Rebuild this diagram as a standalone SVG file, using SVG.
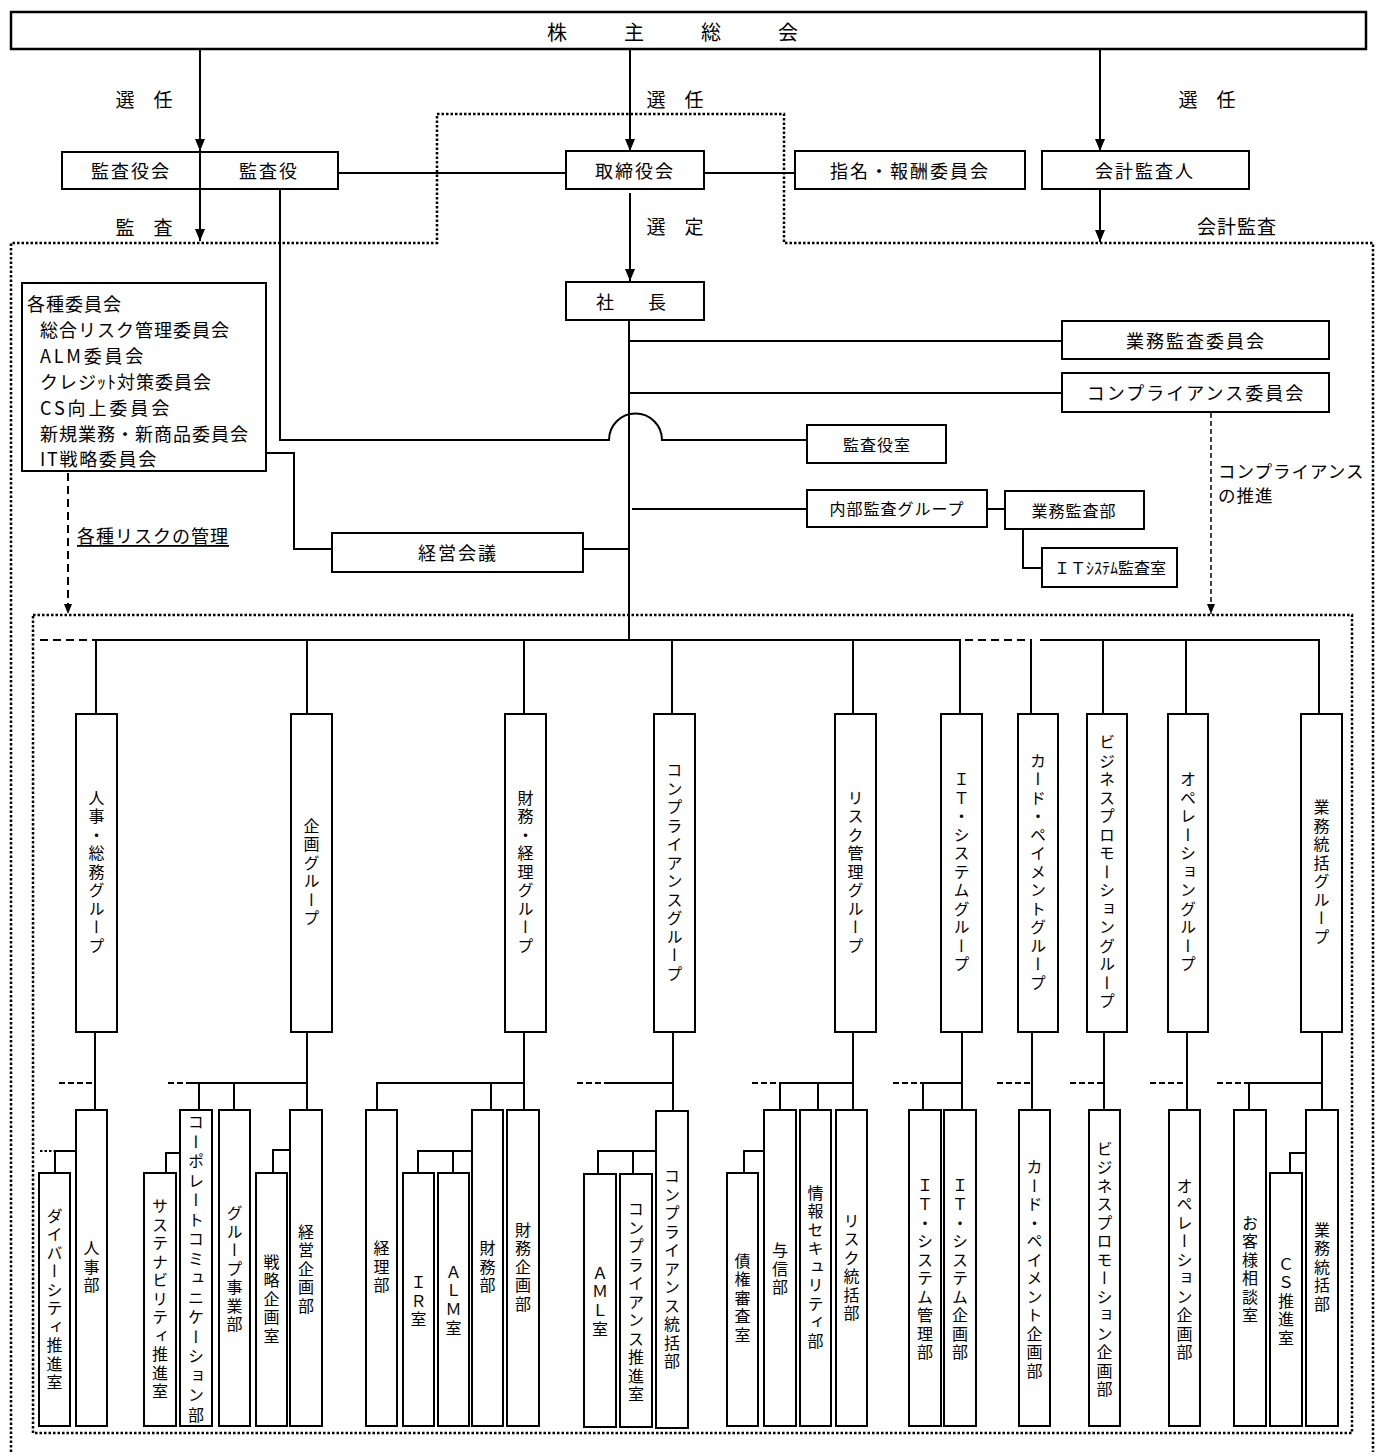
<svg xmlns="http://www.w3.org/2000/svg" width="1376" height="1456" viewBox="0 0 1376 1456">
<style>
.box{fill:#fff;stroke:#000;stroke-width:2}
.ln{fill:none;stroke:#000;stroke-width:2}
.dot{fill:none;stroke:#000;stroke-width:2.5;stroke-dasharray:2.5 2}
.dash{fill:none;stroke:#000;stroke-width:2;stroke-dasharray:8 5}
.dash2{fill:none;stroke:#000;stroke-width:1.5;stroke-dasharray:5 3}
text{font-family:"Noto Sans CJK JP","Noto Sans",sans-serif;fill:#000}
.t{font-size:18px;letter-spacing:2px;text-anchor:middle;dominant-baseline:central}
.s{font-size:16px;letter-spacing:1px;text-anchor:middle;dominant-baseline:central}
.lb{font-size:19px;text-anchor:middle;dominant-baseline:central}
.c{font-size:18px;letter-spacing:1px;dominant-baseline:central}
.v{font-size:16px;letter-spacing:2.5px;text-anchor:middle;writing-mode:vertical-rl}
</style>
<defs>
<marker id="ah" viewBox="0 0 12 10" refX="12" refY="5" markerWidth="12" markerHeight="10" markerUnits="userSpaceOnUse" orient="auto"><path d="M0,0 L12,5 L0,10 z" fill="#000"/></marker>
<marker id="ahs" viewBox="0 0 10 8" refX="10" refY="4" markerWidth="10" markerHeight="8" markerUnits="userSpaceOnUse" orient="auto"><path d="M0,0 L10,4 L0,8 z" fill="#000"/></marker>
</defs>

<g id="connectors">
<path class="dot" d="M11 1452 V243 H437 V114 H784 V243 H1373 V1452"/>
<rect class="dot" x="33" y="615" width="1319" height="818"/>
<line class="ln" x1="200" y1="49" x2="200" y2="151" marker-end="url(#ah)"/>
<line class="ln" x1="630" y1="49" x2="630" y2="151" marker-end="url(#ah)"/>
<line class="ln" x1="1100" y1="49" x2="1100" y2="151" marker-end="url(#ah)"/>
<line class="ln" x1="200" y1="189" x2="200" y2="241" marker-end="url(#ah)"/>
<line class="ln" x1="1100" y1="189" x2="1100" y2="242" marker-end="url(#ah)"/>
<line class="ln" x1="630" y1="193" x2="630" y2="281" marker-end="url(#ah)"/>
<line class="ln" x1="338" y1="173" x2="566" y2="173"/>
<line class="ln" x1="704" y1="173" x2="795" y2="173"/>
<line class="ln" x1="629" y1="320" x2="629" y2="641"/>
<line class="ln" x1="629" y1="341" x2="1062" y2="341"/>
<line class="ln" x1="629" y1="393" x2="1062" y2="393"/>
<path class="ln" d="M280 189 V440 H609 A26.5 26.5 0 0 1 662 440 H807"/>
<line class="ln" x1="632" y1="509" x2="807" y2="509"/>
<line class="ln" x1="987" y1="509" x2="1005" y2="509"/>
<path class="ln" d="M1023 529 V568 H1042"/>
<line class="ln" x1="583" y1="549" x2="629" y2="549"/>
<path class="ln" d="M266 453 H294 V549 H332"/>
<line class="dash" x1="68" y1="473" x2="68" y2="614" marker-end="url(#ahs)"/>
<line class="dash2" x1="1211" y1="413" x2="1211" y2="614" marker-end="url(#ahs)"/>
<line class="dash" x1="40" y1="640" x2="96" y2="640"/>
<line class="ln" x1="96" y1="640" x2="961" y2="640"/>
<line class="dash" x1="965" y1="640" x2="1032" y2="640"/>
<line class="ln" x1="1040" y1="640" x2="1320" y2="640"/>
<path class="ln" d="M96 640 V714 M307 640 V714 M524 640 V714 M672 640 V714 M853 640 V714 M960 640 V714 M1031 639 V714 M1103 640 V714 M1186 640 V714 M1319 640 V714"/>
<line class="ln" x1="95" y1="1032" x2="95" y2="1110"/>
<line class="dash" x1="59" y1="1083" x2="95" y2="1083" style="stroke-dasharray:6 3"/>
<path class="ln" d="M76 1151 H55 V1173"/>
<line class="dot" x1="40" y1="1151" x2="55" y2="1151" style="stroke-width:2"/>
<line class="ln" x1="307" y1="1032" x2="307" y2="1110"/>
<line class="ln" x1="192" y1="1083" x2="307" y2="1083"/>
<line class="dash" x1="168" y1="1083" x2="192" y2="1083" style="stroke-dasharray:6 3"/>
<path class="ln" d="M199 1083 V1110 M234 1083 V1110"/>
<path class="ln" d="M180 1153 H166 V1173"/>
<path class="ln" d="M290 1150 H273 V1173"/>
<line class="ln" x1="524" y1="1032" x2="524" y2="1110"/>
<path class="ln" d="M377 1110 V1083 H524 M491 1083 V1110"/>
<path class="ln" d="M472 1151 H418 V1173 M453 1151 V1173"/>
<line class="ln" x1="673" y1="1032" x2="673" y2="1111"/>
<line class="ln" x1="605" y1="1083" x2="673" y2="1083"/>
<line class="dash" x1="577" y1="1083" x2="605" y2="1083" style="stroke-dasharray:6 3"/>
<path class="ln" d="M656 1151 H598 V1174 M633 1151 V1174"/>
<line class="ln" x1="853" y1="1032" x2="853" y2="1110"/>
<line class="ln" x1="780" y1="1083" x2="853" y2="1083"/>
<line class="dash" x1="752" y1="1083" x2="780" y2="1083" style="stroke-dasharray:6 3"/>
<path class="ln" d="M780 1083 V1110 M818 1083 V1110"/>
<path class="ln" d="M764 1151 H744 V1173"/>
<line class="ln" x1="962" y1="1032" x2="962" y2="1110"/>
<line class="ln" x1="923" y1="1083" x2="962" y2="1083"/>
<line class="dash" x1="893" y1="1083" x2="923" y2="1083" style="stroke-dasharray:6 3"/>
<line class="ln" x1="923" y1="1083" x2="923" y2="1110"/>
<line class="ln" x1="1032" y1="1032" x2="1032" y2="1110"/>
<line class="dash" x1="997" y1="1083" x2="1032" y2="1083" style="stroke-dasharray:6 3"/>
<line class="ln" x1="1104" y1="1032" x2="1104" y2="1110"/>
<line class="dash" x1="1070" y1="1083" x2="1104" y2="1083" style="stroke-dasharray:6 3"/>
<line class="ln" x1="1187" y1="1032" x2="1187" y2="1110"/>
<line class="dash" x1="1150" y1="1083" x2="1187" y2="1083" style="stroke-dasharray:6 3"/>
<line class="ln" x1="1322" y1="1032" x2="1322" y2="1110"/>
<line class="ln" x1="1249" y1="1083" x2="1322" y2="1083"/>
<line class="dash" x1="1217" y1="1083" x2="1249" y2="1083" style="stroke-dasharray:6 3"/>
<line class="ln" x1="1249" y1="1083" x2="1249" y2="1110"/>
<path class="ln" d="M1306 1153 H1290 V1173"/>
</g>

<g id="labels">
<text class="lb" x="144" y="98">選　任</text>
<text class="lb" x="675" y="98">選　任</text>
<text class="lb" x="1207" y="98">選　任</text>
<text class="lb" x="144" y="226">監　査</text>
<text class="lb" x="675" y="225">選　定</text>
<text class="lb" x="1237" y="225" style="letter-spacing:1px">会計監査</text>
<text class="c" x="1218" y="470" style="font-size:17.5px">コンプライアンス</text>
<text class="c" x="1218" y="494" style="font-size:17.5px">の推進</text>
<text class="c" x="77" y="535" style="text-decoration:underline">各種リスクの管理</text>
</g>

<g id="n-kabunushi"><rect class="box" x="11" y="12" width="1355" height="37" style="stroke-width:2.5"/><text class="lb" x="557 634 711 788" y="31" style="font-size:20px">株主総会</text></g>
<g id="n-kansayakukai"><rect class="box" x="62" y="152" width="276" height="37"/><line class="ln" x1="200" y1="152" x2="200" y2="189"/><text class="t" x="131" y="170">監査役会</text><text class="t" x="269" y="170">監査役</text></g>
<g id="n-torishimariyakukai"><rect class="box" x="566" y="151" width="138" height="38"/><text class="t" x="635" y="170">取締役会</text></g>
<g id="n-shimei"><rect class="box" x="795" y="151" width="230" height="38"/><text class="t" x="910" y="170">指名・報酬委員会</text></g>
<g id="n-kaikeikansanin"><rect class="box" x="1042" y="151" width="207" height="38"/><text class="t" x="1145" y="170">会計監査人</text></g>
<g id="n-shacho"><rect class="box" x="566" y="282" width="138" height="38"/><text class="t" x="635" y="301" style="letter-spacing:8px">社　長</text></g>
<g id="n-gyomukansa-iinkai"><rect class="box" x="1062" y="321" width="267" height="38"/><text class="t" x="1196" y="340">業務監査委員会</text></g>
<g id="n-compliance-iinkai"><rect class="box" x="1062" y="373" width="267" height="39"/><text class="t" x="1196" y="392">コンプライアンス委員会</text></g>
<g id="n-kansayakushitsu"><rect class="box" x="807" y="425" width="139" height="38"/><text class="s" x="877" y="444">監査役室</text></g>
<g id="n-naibukansa"><rect class="box" x="807" y="490" width="180" height="37"/><text class="s" x="897" y="508">内部監査グループ</text></g>
<g id="n-gyomukansabu"><rect class="box" x="1005" y="491" width="139" height="38"/><text class="s" x="1074" y="510">業務監査部</text></g>
<g id="n-itsystemkansa"><rect class="box" x="1042" y="548" width="135" height="39"/><text class="s" x="1110" y="567" style="letter-spacing:0">ＩＴｼｽﾃﾑ監査室</text></g>
<g id="n-keieikaigi"><rect class="box" x="332" y="533" width="251" height="39"/><text class="t" x="458" y="552">経営会議</text></g>
<g id="n-kakushu-iinkai"><rect class="box" x="22" y="283" width="244" height="188"/>
<text class="c" x="27" y="303">各種委員会</text>
<text class="c" x="40" y="329">総合リスク管理委員会</text>
<text class="c" x="40" y="355" style="letter-spacing:2.8px">ALM委員会</text>
<text class="c" x="40" y="381">クレジｯﾄ対策委員会</text>
<text class="c" x="40" y="407" style="letter-spacing:2.9px">CS向上委員会</text>
<text class="c" x="40" y="433">新規業務・新商品委員会</text>
<text class="c" x="40" y="458" style="letter-spacing:1.7px">IT戦略委員会</text></g>

<g id="g-jinji"><rect class="box" x="76" y="714" width="41" height="318"/><text class="v" x="96.5" y="873">人事・総務グループ</text></g>
<g id="g-kikaku"><rect class="box" x="291" y="714" width="41" height="318"/><text class="v" x="311.5" y="873">企画グループ</text></g>
<g id="g-zaimu"><rect class="box" x="505" y="714" width="41" height="318"/><text class="v" x="525.5" y="873">財務・経理グループ</text></g>
<g id="g-compliance"><rect class="box" x="654" y="714" width="41" height="318"/><text class="v" x="674.5" y="873">コンプライアンスグループ</text></g>
<g id="g-risk"><rect class="box" x="835" y="714" width="41" height="318"/><text class="v" x="855.5" y="873">リスク管理グループ</text></g>
<g id="g-it"><rect class="box" x="941" y="714" width="41" height="318"/><text class="v" x="961.5" y="873">ＩＴ・システムグループ</text></g>
<g id="g-card"><rect class="box" x="1018" y="714" width="40" height="318"/><text class="v" x="1038" y="873">カード・ペイメントグループ</text></g>
<g id="g-business"><rect class="box" x="1087" y="714" width="40" height="318"/><text class="v" x="1107" y="873">ビジネスプロモーショングループ</text></g>
<g id="g-operation"><rect class="box" x="1168" y="714" width="40" height="318"/><text class="v" x="1188" y="873">オペレーショングループ</text></g>
<g id="g-gyomutokatsu"><rect class="box" x="1301" y="714" width="41" height="318"/><text class="v" x="1321.5" y="873">業務統括グループ</text></g>

<g id="d-diversity"><rect class="box" x="39" y="1173" width="31" height="253"/><text class="v" x="54.5" y="1300">ダイバーシティ推進室</text></g>
<g id="d-jinjibu"><rect class="box" x="76" y="1110" width="31" height="316"/><text class="v" x="91.5" y="1268">人事部</text></g>
<g id="d-sustainability"><rect class="box" x="144" y="1173" width="32" height="253"/><text class="v" x="160" y="1300">サステナビリティ推進室</text></g>
<g id="d-corpcomm"><rect class="box" x="180" y="1110" width="32" height="316"/><text class="v" x="196" y="1270" style="letter-spacing:3.5px">コーポレートコミュニケーション部</text></g>
<g id="d-groupjigyo"><rect class="box" x="219" y="1110" width="31" height="316"/><text class="v" x="234.5" y="1270">グループ事業部</text></g>
<g id="d-senryaku"><rect class="box" x="256" y="1173" width="31" height="253"/><text class="v" x="271.5" y="1300">戦略企画室</text></g>
<g id="d-keieikikaku"><rect class="box" x="290" y="1110" width="32" height="316"/><text class="v" x="306" y="1270">経営企画部</text></g>
<g id="d-keiri"><rect class="box" x="366" y="1110" width="31" height="316"/><text class="v" x="381.5" y="1268">経理部</text></g>
<g id="d-ir"><rect class="box" x="403" y="1173" width="31" height="253"/><text class="v" x="418.5" y="1302">ＩＲ室</text></g>
<g id="d-alm"><rect class="box" x="438" y="1173" width="31" height="253"/><text class="v" x="453.5" y="1301">ＡＬＭ室</text></g>
<g id="d-zaimubu"><rect class="box" x="472" y="1110" width="31" height="316"/><text class="v" x="487.5" y="1268">財務部</text></g>
<g id="d-zaimukikaku"><rect class="box" x="507" y="1110" width="32" height="316"/><text class="v" x="523" y="1268">財務企画部</text></g>
<g id="d-aml"><rect class="box" x="584" y="1174" width="32" height="253"/><text class="v" x="600" y="1302">ＡＭＬ室</text></g>
<g id="d-compsuishin"><rect class="box" x="620" y="1174" width="32" height="253"/><text class="v" x="636" y="1303">コンプライアンス推進室</text></g>
<g id="d-comptokatsu"><rect class="box" x="656" y="1111" width="32" height="317"/><text class="v" x="672" y="1270">コンプライアンス統括部</text></g>
<g id="d-saiken"><rect class="box" x="727" y="1173" width="31" height="253"/><text class="v" x="742.5" y="1299">債権審査室</text></g>
<g id="d-yoshin"><rect class="box" x="764" y="1110" width="32" height="316"/><text class="v" x="780" y="1270">与信部</text></g>
<g id="d-infosec"><rect class="box" x="800" y="1110" width="31" height="316"/><text class="v" x="815.5" y="1268">情報セキュリティ部</text></g>
<g id="d-risktokatsu"><rect class="box" x="836" y="1110" width="31" height="316"/><text class="v" x="851.5" y="1268">リスク統括部</text></g>
<g id="d-itkanri"><rect class="box" x="909" y="1110" width="32" height="316"/><text class="v" x="925" y="1270">ＩＴ・システム管理部</text></g>
<g id="d-itkikaku"><rect class="box" x="944" y="1110" width="32" height="316"/><text class="v" x="960" y="1270">ＩＴ・システム企画部</text></g>
<g id="d-card"><rect class="box" x="1019" y="1110" width="31" height="316"/><text class="v" x="1034.5" y="1270">カード・ペイメント企画部</text></g>
<g id="d-business"><rect class="box" x="1089" y="1110" width="31" height="316"/><text class="v" x="1104.5" y="1270">ビジネスプロモーション企画部</text></g>
<g id="d-operation"><rect class="box" x="1169" y="1110" width="31" height="316"/><text class="v" x="1184.5" y="1270">オペレーション企画部</text></g>
<g id="d-okyakusama"><rect class="box" x="1234" y="1110" width="32" height="316"/><text class="v" x="1250" y="1270">お客様相談室</text></g>
<g id="d-cs"><rect class="box" x="1270" y="1173" width="32" height="253"/><text class="v" x="1286" y="1302">ＣＳ推進室</text></g>
<g id="d-gyomutokatsubu"><rect class="box" x="1306" y="1110" width="32" height="316"/><text class="v" x="1322" y="1268">業務統括部</text></g>
</svg>
